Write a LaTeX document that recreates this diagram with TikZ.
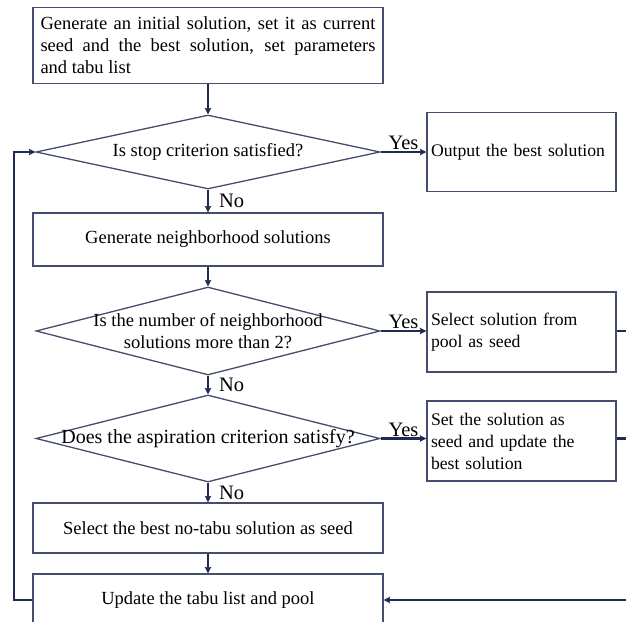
\documentclass[tikz,border=0pt]{standalone}
\usepackage{fontspec}
\setmainfont{Liberation Serif}
\usepackage{xcolor}
\usepackage{tikz}
\usetikzlibrary{arrows.meta,positioning,shapes.geometric,calc}
\definecolor{navy}{HTML}{1F2B50}
\definecolor{rim}{HTML}{454D6E}

\begin{document}
\begin{tikzpicture}[x=1pt, y=-1pt,
  blk/.style={draw=rim, line width=1.3pt, rectangle, minimum width=350pt, inner xsep=7.5pt, inner ysep=0pt, font=\fontsize{18.5}{22}\selectfont},
  dec/.style={draw=rim, line width=1.3pt, diamond, minimum width=344pt, inner xsep=0pt, inner ysep=-12pt, align=center, font=\fontsize{18.5}{22}\selectfont},
  sbox/.style={draw=rim, line width=1.3pt, rectangle, minimum width=189pt, text width=181pt, inner xsep=4pt, align=left, font=\fontsize{17.7}{22}\selectfont},
  arr/.style={-{Stealth[length=6.5pt, width=6.5pt, inset=1pt]}, line width=2.2pt, draw=navy},
  lnk/.style={line width=2.2pt, draw=navy},
  lbl/.style={inner sep=1pt, font=\fontsize{20.5}{24}\selectfont}]
\useasboundingbox (0,0) rectangle (626,621);
\clip (0,0) rectangle (626,621);
% main column
\node[blk, text width=335pt, align=justify, minimum height=76pt] (init) at (208,45.5)
  {Generate an initial solution, set it as current\linebreak seed and the best solution, set parameters\linebreak and tabu list};
\node[dec, aspect=4.65, minimum height=74pt] (stop) at (208,152) {Is stop criterion satisfied?};
\node[blk, minimum height=53pt] (gen) at (208,239.5) {Generate neighborhood solutions};
\node[dec, aspect=3.91, minimum height=88pt] (nbr) at (208,331) {Is the number of neighborhood\\solutions more than 2?};
\node[dec, aspect=3.95, minimum height=87pt, font=\fontsize{20}{24}\selectfont] (asp) at (208,438.5) {Does the aspiration criterion satisfy?};
\node[blk, minimum height=50pt] (best) at (208,528) {Select the best no-tabu solution as seed};
\node[blk, minimum height=52pt] (upd) at (208,600) {Update the tabu list and pool};
% right column
\node[sbox, minimum height=79pt] (out) at (521.5,152) {Output the best solution};
\node[sbox, minimum height=80pt] (pool) at (521.5,332) {Select solution from\\pool as seed};
\node[sbox, minimum height=80pt] (setb) at (521.5,441) {Set the solution as\\seed and update the\\best solution};
\coordinate (rbus) at (640,600);
% connectors
\draw[arr] (init) -- (stop);
\draw[arr] (stop) -- node[lbl, above]{Yes} (out);
\draw[arr] (stop) -- node[lbl, right=9pt]{No} (gen);
\draw[arr] (gen) -- (nbr);
\draw[arr] (nbr.east) -- node[lbl, above]{Yes} (nbr.east -| pool.west);
\draw[arr] (nbr) -- node[lbl, right=9pt]{No} (asp);
\draw[arr] (asp.east) -- node[lbl, above]{Yes} (asp.east -| setb.west);
\draw[arr] (asp) -- node[lbl, right=9pt]{No} (best);
\draw[arr] (best) -- (upd);
\draw[lnk] (nbr.east -| pool.east) -| (rbus);
\draw[lnk] (asp.east -| setb.east) -| (rbus);
\draw[arr] (rbus) -- (upd.east);
\draw[arr] (upd.west) -- ++(-18,0) |- (stop.west);
\end{tikzpicture}
\end{document}
